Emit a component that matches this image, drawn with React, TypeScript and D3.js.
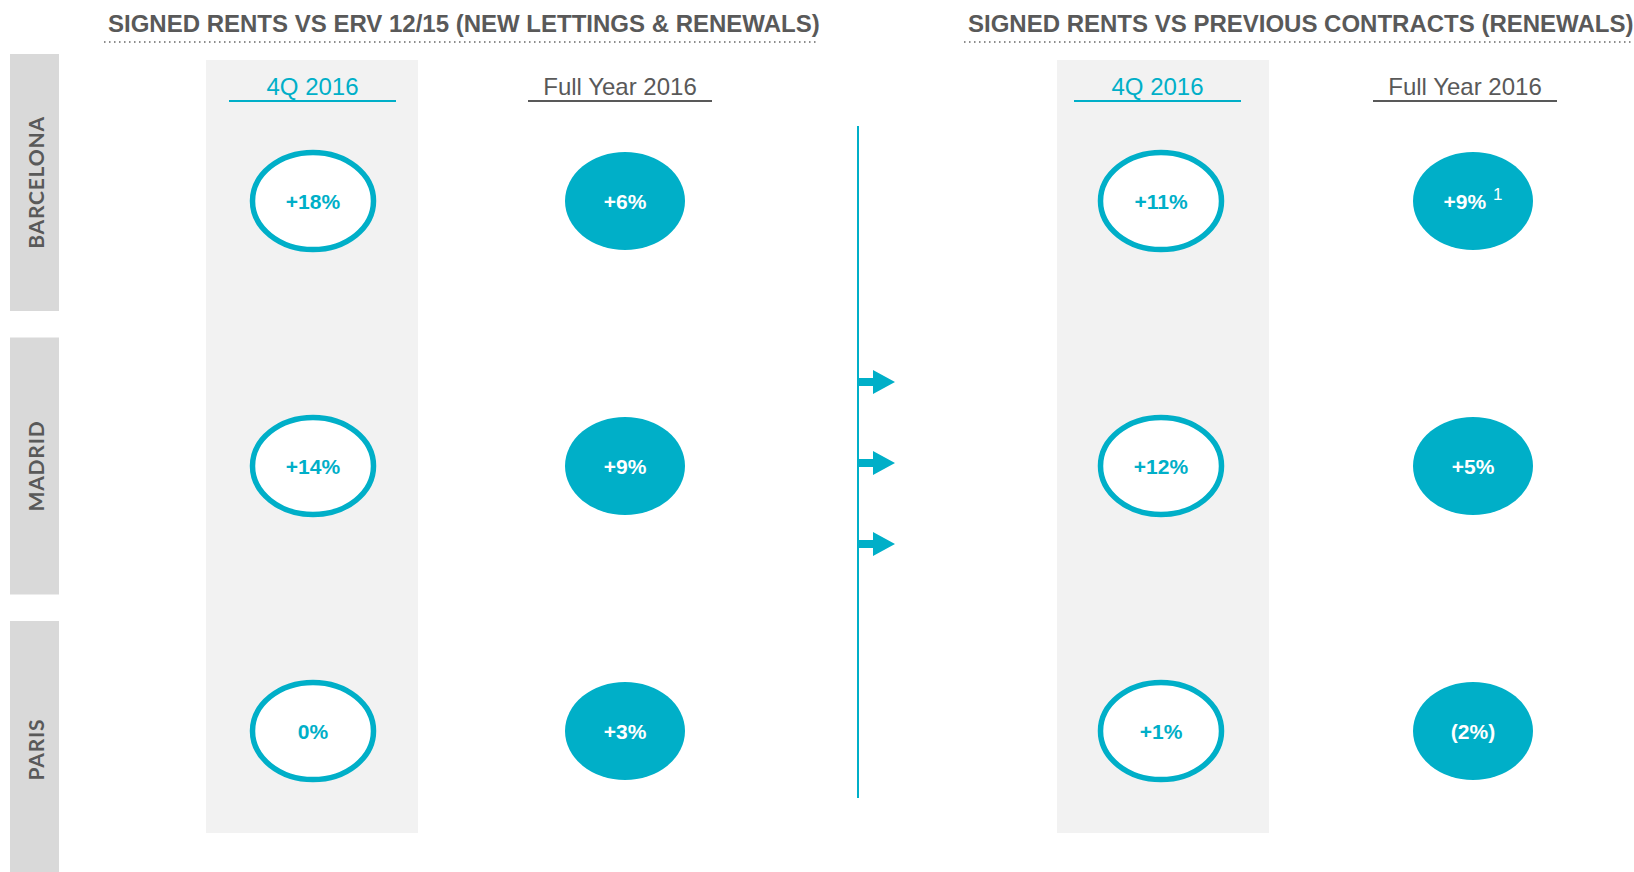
import React from "react";
import * as d3 from "d3";

const width = 1634;
const height = 872;

const teal = "#00afc8";
const grey = "#595959";

// data
const cities = ["BARCELONA", "MADRID", "PARIS"];
const periods = ["4Q 2016", "Full Year 2016"];
const sections = [
  "SIGNED RENTS VS ERV 12/15 (NEW LETTINGS & RENEWALS)",
  "SIGNED RENTS VS PREVIOUS CONTRACTS (RENEWALS)",
];
// values[city] = [4Q, FY]
const ervValues = [
  ["+18%", "+6%"],
  ["+14%", "+9%"],
  ["0%", "+3%"],
];
const renewalValues = [
  ["+11%", "+9%"],
  ["+12%", "+5%"],
  ["+1%", "(2%)"],
];
const ervNotes = [
  ["", ""],
  ["", ""],
  ["", ""],
];
const renewalNotes = [
  ["", "1"],
  ["", ""],
  ["", ""],
];
const arrowSlots = ["a", "b", "c"];

const sectionValues = [ervValues, renewalValues];
const sectionNotes = [ervNotes, renewalNotes];

export default function App() {
  // city label bars
  const bandY = d3.scaleBand<string>().domain(cities).range([54, 878]).paddingInner(0.0935);
  // bubble rows
  const rowY = d3.scalePoint<string>().domain(cities).range([201, 731]);
  // section offsets and column positions
  const sectionX = d3.scaleOrdinal<number, number>().domain([0, 1]).range([0, 848]);
  const colX = d3.scalePoint<string>().domain(periods).range([313, 625]);
  const arrowY = d3.scalePoint<string>().domain(arrowSlots).range([382, 544]);

  const titleX = [108, 968];
  const titleLineX = [[104, 819], [964, 1634]];
  const headerLine = [[229, 396], [528, 712]];
  const headerShift = [0, -3];
  const panelShift = [0, 3];

  return (
    <svg
      width={width}
      height={height}
      style={{ position: "absolute", left: 0, top: 0, background: "#fff" }}
      fontFamily="'Liberation Sans', Arial, sans-serif"
    >
      {/* city bars */}
      {cities.map((c) => (
        <g key={c}>
          <rect x={10} y={bandY(c)} width={49} height={bandY.bandwidth()} fill="#d9d9d9" />
          <text
            transform={`translate(43.5,${(bandY(c) as number) + bandY.bandwidth() / 2}) rotate(-90)`}
            textAnchor="middle"
            fontFamily="Lato, 'Open Sans', sans-serif"
            fontWeight={700}
            fontSize={21}
            letterSpacing={0.8}
            fill={grey}
          >
            {c}
          </text>
        </g>
      ))}

      {sections.map((title, s) => {
        const ox = sectionX(s);
        return (
          <g key={title}>
            <rect x={206 + ox + panelShift[s]} y={60} width={212} height={773} fill="#f2f2f2" />
            <text x={titleX[s]} y={32} fontWeight={700} fontSize={24} fill={grey}>
              {title}
            </text>
            <line
              x1={titleLineX[s][0]}
              x2={titleLineX[s][1]}
              y1={42}
              y2={42}
              stroke="#8c8c8c"
              strokeWidth={2}
              strokeDasharray="1.5 3.5"
            />
            {periods.map((p, j) => {
              const hx = ox + headerShift[s];
              return (
                <g key={p}>
                  <text
                    x={(headerLine[j][0] + headerLine[j][1]) / 2 + hx}
                    y={95}
                    textAnchor="middle"
                    fontSize={24}
                    fill={j === 0 ? teal : grey}
                  >
                    {p}
                  </text>
                  <line
                    x1={headerLine[j][0] + hx}
                    x2={headerLine[j][1] + hx}
                    y1={101}
                    y2={101}
                    stroke={j === 0 ? teal : grey}
                    strokeWidth={2}
                  />
                </g>
              );
            })}
            {cities.map((c, i) =>
              periods.map((p, j) => {
                const cx = (colX(p) as number) + ox;
                const cy = rowY(c) as number;
                const outline = j === 0;
                const note = sectionNotes[s][i][j];
                return (
                  <g key={c + p}>
                    <ellipse
                      cx={cx}
                      cy={cy}
                      rx={outline ? 60.5 : 60}
                      ry={outline ? 48.5 : 49}
                      fill={outline ? "#fff" : teal}
                      stroke={outline ? teal : "none"}
                      strokeWidth={5.5}
                    />
                    <text
                      x={cx}
                      y={cy + 8}
                      textAnchor="middle"
                      fontWeight={700}
                      fontSize={21}
                      fill={outline ? teal : "#fff"}
                    >
                      {sectionValues[s][i][j]}
                      {note && (
                        <tspan dx={7} dy={-9} fontWeight={400} fontSize={17}>
                          {note}
                        </tspan>
                      )}
                    </text>
                  </g>
                );
              })
            )}
          </g>
        );
      })}

      {/* divider with arrows */}
      <line x1={858} x2={858} y1={126} y2={798} stroke={teal} strokeWidth={2} />
      {arrowSlots.map((a) => {
        const y = arrowY(a) as number;
        return (
          <path
            key={a}
            d={`M858,${y - 4}H873V${y - 12}L895,${y}L873,${y + 12}V${y + 4}H858Z`}
            fill={teal}
          />
        );
      })}
    </svg>
  );
}
